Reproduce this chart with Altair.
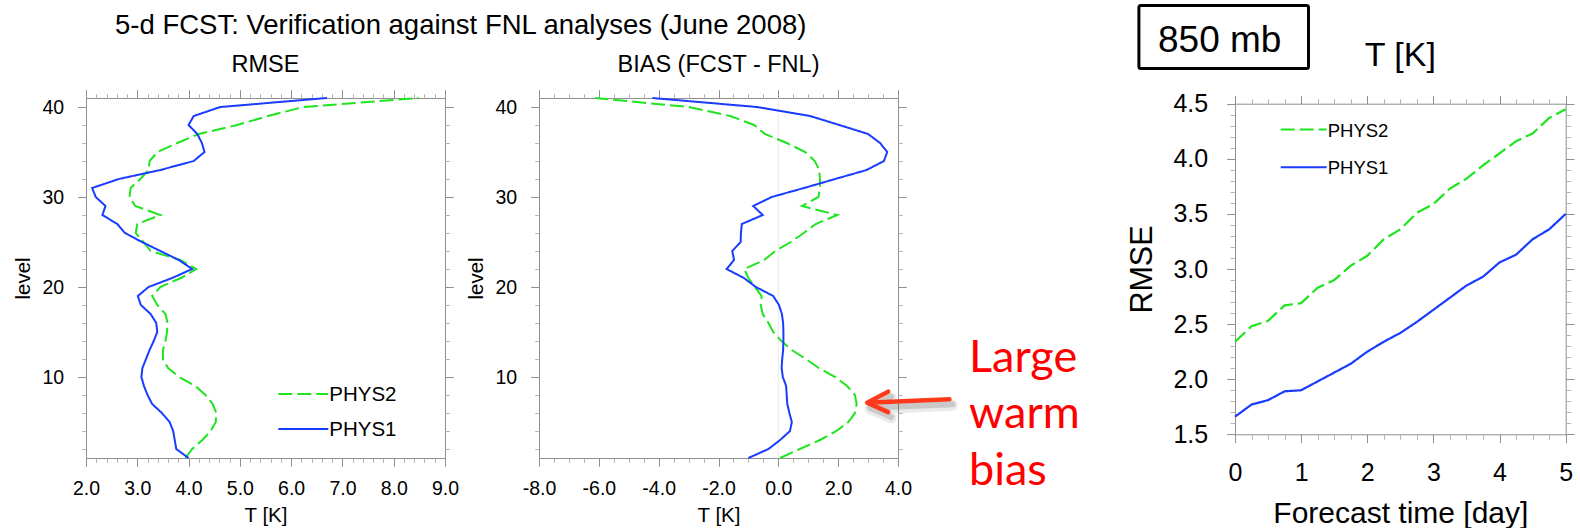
import altair as alt
import pandas as pd

# ---------------------------------------------------------------- data
# Vertical profiles, model level 1 (bottom) ... 41 (top)
LEVELS = list(range(1, 42))
RMSE_PHYS1 = [4.00, 3.76, 3.73, 3.70, 3.63, 3.48, 3.29, 3.20, 3.13, 3.08,
              3.10, 3.17, 3.24, 3.32, 3.39, 3.37, 3.26, 3.07, 3.01, 3.22,
              3.68, 4.07, 3.81, 3.45, 3.09, 2.76, 2.61, 2.32, 2.38, 2.19,
              2.12, 2.64, 3.45, 4.10, 4.31, 4.26, 4.17, 4.00, 4.10, 4.62, 6.70]
RMSE_PHYS2 = [3.94, 4.07, 4.27, 4.43, 4.53, 4.54, 4.47, 4.33, 4.13, 3.82,
              3.60, 3.50, 3.50, 3.55, 3.58, 3.59, 3.55, 3.39, 3.29, 3.45,
              3.85, 4.15, 3.84, 3.26, 3.12, 2.97, 3.00, 3.45, 2.96, 2.85,
              2.87, 3.06, 3.22, 3.24, 3.39, 3.78, 4.20, 4.95, 5.55, 6.24, 8.49]
BIAS_PHYS1 = [-1.00, -0.33, 0.06, 0.39, 0.45, 0.37, 0.30, 0.28, 0.26, 0.15,
              0.11, 0.13, 0.16, 0.17, 0.17, 0.16, 0.12, 0.02, -0.17, -0.75,
              -1.15, -1.73, -1.48, -1.54, -1.26, -1.25, -1.22, -0.52, -0.84, -0.22,
              0.86, 1.90, 2.95, 3.53, 3.64, 3.40, 3.00, 2.04, 1.06, -0.72, -4.21]
BIAS_PHYS2 = [0.06, 0.72, 1.39, 1.94, 2.34, 2.56, 2.62, 2.56, 2.30, 1.90,
              1.35, 0.92, 0.45, 0.10, -0.17, -0.33, -0.52, -0.59, -0.56, -0.78,
              -1.00, -1.14, -0.47, -0.10, 0.42, 0.85, 1.25, 1.97, 0.79, 1.34,
              1.39, 1.39, 1.37, 1.22, 0.90, 0.28, -0.45, -0.81, -1.61, -3.00, -6.12]

# 850 mb temperature RMSE against forecast lead time
DAYS = [0.0, 0.25, 0.5, 0.75, 1.0, 1.25, 1.5, 1.75, 2.0, 2.25, 2.5,
        2.75, 3.0, 3.25, 3.5, 3.75, 4.0, 4.25, 4.5, 4.75, 5.0]
T850_PHYS2 = [2.34, 2.48, 2.53, 2.67, 2.69, 2.83, 2.90, 3.03, 3.12, 3.27, 3.36,
              3.51, 3.59, 3.73, 3.82, 3.94, 4.05, 4.16, 4.23, 4.37, 4.45]
T850_PHYS1 = [1.66, 1.77, 1.81, 1.89, 1.90, 1.98, 2.06, 2.14, 2.25, 2.34, 2.42,
              2.52, 2.63, 2.74, 2.85, 2.93, 3.06, 3.13, 3.27, 3.36, 3.50]

SERIES = ["PHYS2", "PHYS1"]

# axis ticks
RMSE_X_MAJOR = [2.0, 3.0, 4.0, 5.0, 6.0, 7.0, 8.0, 9.0]
BIAS_X_MAJOR = [-8.0, -6.0, -4.0, -2.0, 0.0, 2.0, 4.0]
LEVEL_MAJOR = [10, 20, 30, 40]
DAY_MAJOR = [0, 1, 2, 3, 4, 5]
RMSE850_MAJOR = [1.5, 2.0, 2.5, 3.0, 3.5, 4.0, 4.5]

# texts
MAIN_TITLE = "5-d FCST: Verification against FNL analyses (June 2008)"
RMSE_HEADING = "RMSE"
BIAS_HEADING = "BIAS (FCST - FNL)"
LEVEL_BOX = "850 mb"
RIGHT_HEADING = "T [K]"
NOTE = "Large\nwarm\nbias"

# arrow pointing at the warm-bias bulge (BIAS data coordinates)
ARROW_T = [5.72, 2.97, 3.67, 2.97, 3.67]
ARROW_LEVEL = [7.52, 7.14, 8.37, 7.14, 6.10]

# ---------------------------------------------------------------- style
FONT = "Liberation Sans"
COLORS = ["#1fe41f", "#1a3cff"]
DASHES = [[14, 5], [1, 0]]
FRAME = "#8f8f8f"
MINOR = "#b4b4b4"

W12, H12 = 359, 360          # profile panels
W3, H3, TOP3 = 330.7, 336.3, 5.7   # forecast-time panel (plot starts TOP3 below group top)
GAP = 94
SPACER_W = 148.3

LAB12 = 19.5   # tick-label size, profile panels
TIT12 = 20.5   # axis-title size, profile panels
LAB3 = 25      # tick-label size, forecast-time panel

color_enc = alt.Color("series:N", scale=alt.Scale(domain=SERIES, range=COLORS), legend=None)
dash_enc = alt.StrokeDash("series:N", scale=alt.Scale(domain=SERIES, range=DASHES), legend=None)


def minor_steps(lo, hi, step, major_every):
    n = int(round((hi - lo) / step))
    return [round(lo + i * step, 3) for i in range(n + 1) if i % major_every]


LEVEL_MINOR = [v for v in range(2, 41, 2) if v % 10]
RMSE_X_MINOR = minor_steps(2.0, 9.0, 0.2, 5)
BIAS_X_MINOR = minor_steps(-8.0, 4.0, 0.5, 4)
DAY_MINOR = minor_steps(0.0, 5.0, 0.25, 4)
RMSE850_MINOR = minor_steps(1.5, 4.5, 0.1, 5)


def long_frame(key, keys, cols):
    rows = []
    for name, vals in cols.items():
        for k, v in zip(keys, vals):
            rows.append({key: k, "value": v, "series": name})
    return pd.DataFrame(rows)


def text_layer(text, x, y, size, align="center", color="black", font=FONT, **kw):
    return alt.Chart(pd.DataFrame({"txt": [text]})).mark_text(
        fontSize=size, align=align, baseline="alphabetic", color=color, font=font, **kw
    ).encode(x=alt.value(x), y=alt.value(y), text="txt:N")


def legend_layers(x0, x1, y_rows, text_dy, size):
    out = []
    for name, y in zip(SERIES, y_rows):
        d = pd.DataFrame({"series": [name]})
        out.append(alt.Chart(d).mark_rule(strokeWidth=2).encode(
            x=alt.value(x0), x2=alt.value(x1), y=alt.value(y),
            color=color_enc, strokeDash=dash_enc))
        out.append(alt.Chart(d).mark_text(
            fontSize=size, align="left", baseline="alphabetic", font=FONT, color="black"
        ).encode(x=alt.value(x1 + 1), y=alt.value(y + text_dy), text="series:N"))
    return out


LABEL_EXPR = "replace(format(datum.value, '.1f'), '\u2212', '-')"
NOFLUSH = dict(labelFlush=False, labelOverlap=False, labelBound=False)


def level_panel(frame, xdomain, x_major, x_minor, heading, under=(), over=()):
    xs = alt.Scale(domain=xdomain, nice=False, zero=False)
    ys = alt.Scale(domain=[1, 41], nice=False, zero=False)
    base = alt.Chart(frame)

    curves = base.mark_line(strokeWidth=2).encode(
        x=alt.X("value:Q", scale=xs, title="T [K]",
                axis=alt.Axis(orient="bottom", values=x_major, labelExpr=LABEL_EXPR,
                              labelFontSize=LAB12, labelPadding=13, tickSize=8.3,
                              tickColor=FRAME, domainColor=FRAME,
                              titleFontSize=TIT12, titleX=W12 / 2, titleY=63.5,
                              titleBaseline="alphabetic", titleAlign="center", **NOFLUSH)),
        y=alt.Y("level:Q", scale=ys, title="level",
                axis=alt.Axis(orient="left", values=LEVEL_MAJOR, format="d",
                              labelFontSize=LAB12, labelPadding=14, tickSize=8.3,
                              tickColor=FRAME, domainColor=FRAME,
                              titleFontSize=TIT12, titleX=-57, titleY=H12 / 2,
                              titleAngle=270, titleBaseline="alphabetic",
                              titleAlign="center", **NOFLUSH)),
        color=color_enc, strokeDash=dash_enc, order=alt.Order("level:Q"))

    def ghost(xaxis, yaxis):
        return base.mark_line(opacity=0).encode(
            x=alt.X("value:Q", scale=xs, title=None, axis=xaxis),
            y=alt.Y("level:Q", scale=ys, title=None, axis=yaxis),
            detail="series:N", order=alt.Order("level:Q"))

    g1 = ghost(alt.Axis(orient="bottom", values=x_minor, labels=False, tickSize=4.3,
                        tickColor=MINOR, domain=False),
               alt.Axis(orient="left", values=LEVEL_MINOR, labels=False, tickSize=4.3,
                        tickColor=MINOR, domain=False))
    g2 = ghost(alt.Axis(orient="top", values=x_major, labels=False, tickSize=8.3,
                        tickColor=FRAME, domainColor=FRAME),
               alt.Axis(orient="right", values=LEVEL_MAJOR, labels=False, tickSize=8.3,
                        tickColor=FRAME, domainColor=FRAME))
    g3 = ghost(alt.Axis(orient="top", values=x_minor, labels=False, tickSize=4.3,
                        tickColor=MINOR, domain=False),
               alt.Axis(orient="right", values=LEVEL_MINOR, labels=False, tickSize=4.3,
                        tickColor=MINOR, domain=False))

    head = text_layer(heading, W12 / 2, -26.5, 23.5)
    layers = [*under, curves, g1, g2, g3, head, *over]
    return alt.layer(*layers).resolve_axis(x="independent", y="independent").properties(
        width=W12, height=H12)


# ---------------------------------------------------------------- RMSE profile
rmse_df = long_frame("level", LEVELS, {"PHYS2": RMSE_PHYS2, "PHYS1": RMSE_PHYS1})
# transparent corner marker fixing the page origin
corner = alt.Chart(pd.DataFrame({"c": [0]})).mark_rule(strokeWidth=0, opacity=0).encode(
    x=alt.value(-86), x2=alt.value(-86), y=alt.value(-98), y2=alt.value(-98))
p1 = level_panel(
    rmse_df, [2.0, 9.0], RMSE_X_MAJOR, RMSE_X_MINOR, RMSE_HEADING,
    under=[corner],
    over=[text_layer(MAIN_TITLE, 29, -64.3, 27.5, align="left"),
          *legend_layers(192.3, 242.3, [296, 331], 7.4, 20.5)])

# ---------------------------------------------------------------- BIAS profile
bias_df = long_frame("level", LEVELS, {"PHYS2": BIAS_PHYS2, "PHYS1": BIAS_PHYS1})
bias_xs = alt.Scale(domain=[-8.0, 4.0], nice=False, zero=False)
bias_ys = alt.Scale(domain=[1, 41], nice=False, zero=False)
zero_line = alt.Chart(pd.DataFrame({"zero": [0.0]})).mark_rule(
    color="#ececec", strokeWidth=1).encode(
    x=alt.X("zero:Q", scale=bias_xs, axis=None))
arrow_df = pd.DataFrame({"t": ARROW_T, "lev": ARROW_LEVEL, "k": list(range(len(ARROW_T)))})
arrow_enc = dict(x=alt.X("t:Q", scale=bias_xs, axis=None),
                 y=alt.Y("lev:Q", scale=bias_ys, axis=None),
                 order=alt.Order("k:Q"))
arrow_shadow1 = alt.Chart(arrow_df).mark_line(
    color="#555555", opacity=0.12, strokeWidth=11, strokeCap="round", strokeJoin="round",
    xOffset=3, yOffset=6).encode(**arrow_enc)
arrow_shadow2 = alt.Chart(arrow_df).mark_line(
    color="#555555", opacity=0.22, strokeWidth=6, strokeCap="round", strokeJoin="round",
    xOffset=3, yOffset=5).encode(**arrow_enc)
arrow = alt.Chart(arrow_df).mark_line(
    color="#ff3a1c", strokeWidth=4.5, strokeCap="round", strokeJoin="round").encode(**arrow_enc)
note = alt.Chart(pd.DataFrame({"txt": [NOTE]})).mark_text(
    fontSize=45, align="left", baseline="alphabetic", color="#ff0000", font="Lato",
    lineBreak="\n", lineHeight=56.7).encode(x=alt.value(430), y=alt.value(273.7), text="txt:N")
p2 = level_panel(
    bias_df, [-8.0, 4.0], BIAS_X_MAJOR, BIAS_X_MINOR, BIAS_HEADING,
    under=[zero_line], over=[arrow_shadow1, arrow_shadow2, arrow, note])

# ---------------------------------------------------------------- spacer cell
spacer = alt.Chart(pd.DataFrame({"s": [0]})).mark_rule(opacity=0).encode(
    x=alt.value(0), y=alt.value(0)).properties(width=SPACER_W, height=10)

# ---------------------------------------------------------------- 850 mb RMSE vs lead time
t850_df = long_frame("day", DAYS, {"PHYS2": T850_PHYS2, "PHYS1": T850_PHYS1})
xs3 = alt.Scale(domain=[0, 5], nice=False, zero=False)
ys3 = alt.Scale(domain=[1.5, 4.5], range=[H3, TOP3], nice=False, zero=False)
base3 = alt.Chart(t850_df)
lines3 = base3.mark_line(strokeWidth=2.2).encode(
    x=alt.X("day:Q", scale=xs3, title="Forecast time [day]",
            axis=alt.Axis(orient="bottom", values=DAY_MAJOR, format="d",
                          labelFontSize=LAB3, labelPadding=17.5, tickSize=8.3,
                          tickColor=FRAME, domainColor=FRAME,
                          titleFontSize=30, titleX=W3 / 2, titleY=87.7,
                          titleBaseline="alphabetic", titleAlign="center", **NOFLUSH)),
    y=alt.Y("value:Q", scale=ys3, title="RMSE",
            axis=alt.Axis(orient="left", values=RMSE850_MAJOR, format=".1f",
                          labelFontSize=LAB3, labelPadding=19, tickSize=8.3,
                          tickColor=FRAME, domainColor=FRAME,
                          titleFontSize=30.5, titleX=-83.6, titleY=(H3 + TOP3) / 2,
                          titleAngle=270, titleBaseline="alphabetic", titleAlign="center",
                          **NOFLUSH)),
    color=color_enc, strokeDash=dash_enc, order=alt.Order("day:Q"))


def ghost3(xaxis, yaxis):
    return base3.mark_line(opacity=0).encode(
        x=alt.X("day:Q", scale=xs3, title=None, axis=xaxis),
        y=alt.Y("value:Q", scale=ys3, title=None, axis=yaxis),
        detail="series:N", order=alt.Order("day:Q"))


h1 = ghost3(alt.Axis(orient="bottom", values=DAY_MINOR, labels=False, tickSize=5,
                     tickColor=MINOR, domain=False),
            alt.Axis(orient="left", values=RMSE850_MINOR, labels=False, tickSize=5,
                     tickColor=MINOR, domain=False))
h2 = ghost3(alt.Axis(orient="top", values=DAY_MAJOR, labels=False, tickSize=8.3,
                     tickColor=FRAME, domainColor=FRAME, offset=-TOP3),
            alt.Axis(orient="right", values=RMSE850_MAJOR, labels=False, tickSize=8.3,
                     tickColor=FRAME, domainColor=FRAME))
h3 = ghost3(alt.Axis(orient="top", values=DAY_MINOR, labels=False, tickSize=5,
                     tickColor=MINOR, domain=False, offset=-TOP3),
            alt.Axis(orient="right", values=RMSE850_MINOR, labels=False, tickSize=5,
                     tickColor=MINOR, domain=False))

box = alt.Chart(pd.DataFrame({"txt": [LEVEL_BOX]})).mark_rect(
    fillOpacity=0, stroke="black", strokeWidth=3, cornerRadius=2).encode(
    x=alt.value(-96.1), x2=alt.value(73.5), y=alt.value(-92.5), y2=alt.value(-29.5))
box_text = text_layer(LEVEL_BOX, -77, -45.8, 37, align="left")
right_head = text_layer(RIGHT_HEADING, W3 / 2, -32.3, 34)

p3 = alt.layer(
    lines3, h1, h2, h3, box, box_text, right_head,
    *legend_layers(45.7, 91.7, [31.6, 69.3], 7.0, 18.5),
).resolve_axis(x="independent", y="independent").properties(width=W3, height=H3)

# ---------------------------------------------------------------- assemble
chart = alt.hconcat(p1, p2, spacer, p3, spacing=GAP, bounds="flush").properties(
    padding=0
).configure(font=FONT).configure_view(stroke=None).configure_axis(
    labelFont=FONT, titleFont=FONT, titleFontWeight="normal",
    labelColor="black", titleColor="black", grid=False, tickWidth=1, domainWidth=1)

chart.save("out.html", embed_options={"renderer": "svg", "actions": False})
